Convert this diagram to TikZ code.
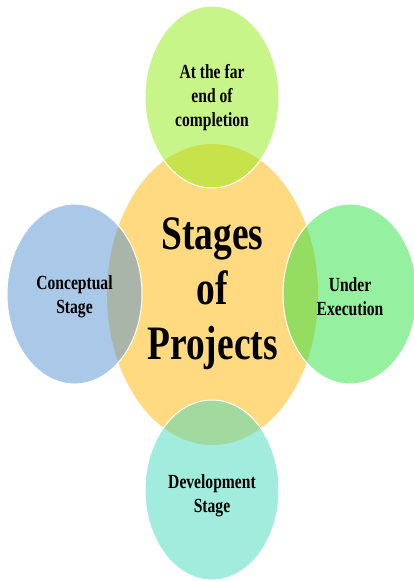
\documentclass[tikz,border=0pt]{standalone}
\usepackage{fontspec}
\setmainfont{Liberation Serif}[FakeStretch=0.78]
\usetikzlibrary{shapes.geometric}
\definecolor{corec}{RGB}{255,218,129}
\definecolor{topc}{RGB}{145,235,21}
\definecolor{leftc}{RGB}{85,145,209}
\definecolor{rightc}{RGB}{43,225,65}
\definecolor{botc}{RGB}{69,217,189}
\tikzset{
  core/.style={ellipse, fill=corec, inner sep=0pt, minimum width=211pt, minimum height=301pt},
  coretext/.style={align=center, inner sep=0pt, font=\bfseries\fontsize{48}{55}\selectfont},
  petal/.style={ellipse, fill=#1, fill opacity=0.5, draw=white, draw opacity=1,
    line width=1pt, inner sep=0pt, minimum width=134pt, minimum height=180pt},
  petaltext/.style={align=center, inner sep=0pt, font=\bfseries\fontsize{20}{24}\selectfont}
}
\begin{document}
\begin{tikzpicture}[x=1pt,y=-1pt]
\useasboundingbox (0,0) rectangle (414,581);
\node[core] (core) at (212.5,294.5) {};
\node[petal=topc, minimum height=182pt] (top) at (212,97) {};
\node[petal=leftc, minimum width=135pt] (left) at (74.5,294) {};
\node[petal=rightc] (right) at (350,294) {};
\node[petal=botc] (bottom) at (212,490) {};
\node[coretext] (coret) at (212.5,294) {Stages\\of\\Projects};
\node[petaltext] (topt) at (212,98) {At the far\\end of\\completion};
\node[petaltext] (leftt) at (74.5,297) {Conceptual\\Stage};
\node[petaltext] (rightt) at (350,297) {Under\\Execution};
\node[petaltext] (bott) at (212,496) {Development\\Stage};
\end{tikzpicture}
\end{document}
